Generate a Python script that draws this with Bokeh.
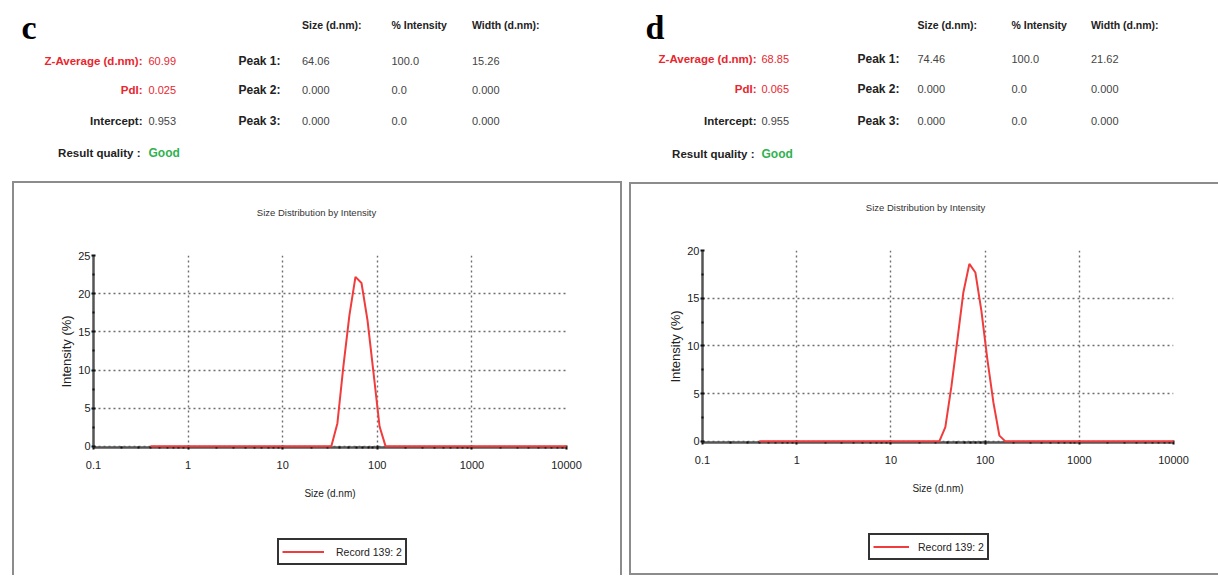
from bokeh.plotting import figure
from bokeh.models import (Label, FixedTicker, CustomJSTickFormatter,
                          Legend, LegendItem, Range1d)
from bokeh.layouts import row, column
from bokeh.core.properties import value
from bokeh.embed import file_html
from bokeh.resources import INLINE

# ---------------- data ----------------
sizes_c = [0.4, 32.67, 37.84, 43.82, 50.75, 58.77, 68.06, 78.82, 91.28, 105.7, 122.4, 10000]
intensity_c = [0, 0, 3.0, 10.5, 17.2, 22.2, 21.4, 16.5, 9.6, 2.6, 0, 0]

sizes_d = [0.4, 32.67, 37.84, 43.82, 50.75, 58.77, 68.06, 78.82, 91.28, 105.7, 122.4, 141.8, 164.2, 10000]
intensity_d = [0, 0, 1.5, 5.7, 10.6, 15.6, 18.6, 17.7, 13.7, 8.6, 4.1, 0.6, 0, 0]

x_tick_values = [0.1, 1, 10, 100, 1000, 10000]
x_tick_labels = ["0.1", "1", "10", "100", "1000", "10000"]
y_ticks_c = [0, 5, 10, 15, 20, 25]
y_ticks_d = [0, 5, 10, 15, 20]

col_heads = ["Size (d.nm):", "% Intensity", "Width (d.nm):"]
row_labels = ["Z-Average (d.nm):", "PdI:", "Intercept:", "Result quality :"]
peak_labels = ["Peak 1:", "Peak 2:", "Peak 3:"]
c_row_values = ["60.99", "0.025", "0.953", "Good"]
d_row_values = ["68.85", "0.065", "0.955", "Good"]
c_peaks = [["64.06", "100.0", "15.26"], ["0.000", "0.0", "0.000"], ["0.000", "0.0", "0.000"]]
d_peaks = [["74.46", "100.0", "21.62"], ["0.000", "0.0", "0.000"], ["0.000", "0.0", "0.000"]]

title_text = "Size Distribution by Intensity"
x_label = "Size (d.nm)"
y_label = "Intensity (%)"
legend_text = "Record 139: 2"

SANS = "Liberation Sans"
SERIF = "Liberation Serif"
RED = "#e8262e"
GREEN = "#2fb24f"
CURVE = "#f03c3c"
BOX = "#8c8c8c"

x_minor = [m * 10.0 ** e for e in range(-1, 4) for m in range(2, 10)]


def blank(w, h, x0=0, x1=None):
    """Figure with pixel-like ranges (y downward) and no axes."""
    p = figure(width=w, height=h, x_range=Range1d(x0, w if x1 is None else x1),
               y_range=Range1d(h, 0),
               output_backend="svg", toolbar_location=None,
               x_axis_location=None, y_axis_location=None,
               min_border=0, min_border_left=0, min_border_right=0,
               min_border_top=0, min_border_bottom=0)
    p.grid.visible = False
    p.outline_line_color = None
    p.background_fill_color = "white"
    p.border_fill_color = "white"
    return p


def put(p, text, x, y, size, color="#222222", bold=False, align="left",
        font=SANS, baseline="middle"):
    p.add_layout(Label(x=x, y=y, text=text, text_font=font, text_font_size=f"{size}px",
                       text_color=color, text_font_style="bold" if bold else "normal",
                       text_align=align, text_baseline=baseline))


def make_panel(cfg):
    ox = cfg["ox"]
    # ---------- header ----------
    hd = blank(cfg["w"], cfg["hh"])
    put(hd, cfg["letter"], cfg["letter_x"] - ox, 27, 34, color="#000000", bold=True,
        font=SERIF, baseline="alphabetic")
    for j, h in enumerate(col_heads):
        put(hd, h, cfg["cols"][j] - ox, 24, 10.5, bold=True)
    rows_y = cfg["rows"]
    for i, lab in enumerate(row_labels):
        colr = RED if i < 2 else "#222222"
        put(hd, lab, cfg["lab_r"] - ox - (2 if i == 3 else 0), rows_y[i], 11.5,
            color=colr, bold=True, align="right")
        val = cfg["vals"][i]
        if i == 3:
            put(hd, val, cfg["val_x"] - ox, rows_y[i], 12, color=GREEN, bold=True)
        else:
            put(hd, val, cfg["val_x"] - ox, rows_y[i], 11, color=RED if i < 2 else "#444444")
    for i, lab in enumerate(peak_labels):
        put(hd, lab, cfg["peak_x"] - ox, rows_y[i], 12, bold=True)
        for j in range(3):
            put(hd, cfg["peaks"][i][j], cfg["cols"][j] - ox, rows_y[i], 11, color="#444444")

    iw, bl, fw = cfg["iw"], cfg["bl"], cfg["fw"]
    # inside the boxed column the plot frames are aligned to the chart frame (bl .. bl+fw),
    # so the strips use x ranges that keep one unit per pixel of the strip canvas
    # ---------- title strip ----------
    tf = blank(iw, cfg["th"], x0=bl, x1=bl + fw)
    put(tf, title_text, cfg["title"][0] - cfg["ix"], cfg["title"][1] - cfg["iy"], 9.5,
        color="#333333", align="center")

    # ---------- chart ----------
    p = figure(width=iw, height=272, x_axis_type="log",
               x_range=Range1d(0.1, 10000), y_range=Range1d(cfg["y0"], cfg["ymax"]),
               output_backend="svg", toolbar_location=None,
               min_border_left=bl, min_border_right=iw - bl - fw,
               min_border_top=10, min_border_bottom=70,
               background_fill_color="white", border_fill_color="white")
    p.outline_line_color = None
    xt = FixedTicker(ticks=x_tick_values, minor_ticks=x_minor)
    yt = FixedTicker(ticks=cfg["yticks"], minor_ticks=[t + 2.5 for t in cfg["yticks"][:-1]])
    p.xaxis.ticker = xt
    p.yaxis.ticker = yt
    p.xgrid.ticker = xt
    p.ygrid.ticker = yt
    p.xaxis.formatter = CustomJSTickFormatter(
        args=dict(vals=x_tick_values, labs=x_tick_labels),
        code="for (let i = 0; i < vals.length; i++) { if (Math.abs(vals[i] - tick) < 1e-6 * vals[i]) return labs[i]; } return '';")
    for ax in (p.xaxis[0], p.yaxis[0]):
        ax.axis_line_color = "#555555"
        ax.axis_line_width = 2.5
        ax.major_tick_line_color = "#111111"
        ax.major_tick_line_width = 2
        ax.major_tick_in = 2
        ax.major_tick_out = 2
        ax.minor_tick_line_color = "#111111"
        ax.minor_tick_line_width = 2
        ax.minor_tick_in = 1
        ax.minor_tick_out = 1
        ax.major_label_text_font = SANS
        ax.major_label_text_font_size = "11px"
        ax.major_label_text_color = "#222222"
    p.xaxis.major_label_standoff = 11
    p.yaxis.major_label_standoff = 1
    p.xaxis.axis_label = x_label
    p.xaxis.axis_label_text_font = SANS
    p.xaxis.axis_label_text_font_size = "10px"
    p.xaxis.axis_label_text_font_style = "normal"
    p.xaxis.axis_label_text_color = "#222222"
    p.xaxis.axis_label_standoff = 16
    p.yaxis.axis_label = y_label
    p.yaxis.axis_label_text_font = SANS
    p.yaxis.axis_label_text_font_size = "13px"
    p.yaxis.axis_label_text_font_style = "normal"
    p.yaxis.axis_label_text_color = "#222222"
    p.yaxis.axis_label_standoff = 1
    for g in (p.xgrid[0], p.ygrid[0]):
        g.grid_line_color = "#6e6e6e"
        g.grid_line_width = 1.4
        g.grid_line_dash = "2 3"
    p.line(cfg["x"], cfg["y"], line_color=CURVE, line_width=2, level="overlay")

    # ---------- legend strip ----------
    lf = blank(iw, cfg["lh"], x0=bl, x1=bl + fw)
    proxy = lf.line([float("nan")], [float("nan")], line_color=CURVE, line_width=2)
    leg = Legend(items=[LegendItem(label=value(legend_text), renderers=[proxy])],
                 location=(cfg["leg"][0] - cfg["ix"] - bl, cfg["lh"] - (cfg["leg"][1] - cfg["ly"])),
                 padding=3, margin=0, spacing=0, glyph_width=cfg["gw"], glyph_height=17,
                 label_height=17, label_standoff=cfg["ls"], label_text_font=SANS,
                 label_text_font_size="10.5px", label_text_color="#222222",
                 border_line_color="#333333", border_line_width=2, border_line_alpha=1,
                 background_fill_color="white", background_fill_alpha=1)
    lf.add_layout(leg, "center")

    border = {"border-top": f"2px solid {BOX}", "border-left": f"2px solid {BOX}"}
    if cfg["right_border"]:
        border["border-right"] = f"2px solid {BOX}"
    if cfg["bottom_border"]:
        border["border-bottom"] = f"2px solid {BOX}"
    boxed = column(tf, p, lf, styles=border, margin=(0, 0, 0, cfg["bm"]), spacing=0)
    return column(hd, boxed, spacing=0)


# left panel: page x 0..625 ; box inner page x 14..620, inner top page y 183
cfg_c = dict(ox=0, w=625, hh=181, bm=12, iw=606, ix=14, iy=183, th=62, ly=517, lh=58,
             bl=79, fw=473, y0=-0.15, ymax=25, yticks=y_ticks_c, x=sizes_c, y=intensity_c,
             leg=(277, 565), gw=42, ls=12, title=(316, 212), bottom_border=False, right_border=True,
             letter="c", letter_x=21, cols=(301.5, 391, 471.5), rows=(60, 89, 120, 152),
             lab_r=142, val_x=148, peak_x=238, vals=c_row_values, peaks=c_peaks)
# right panel: page x 625..1218 ; box inner page x 631..1218, inner top page y 184
cfg_d = dict(ox=625, w=593, hh=182, bm=4, iw=587, ix=631, iy=184, th=56, ly=512, lh=61,
             bl=71, fw=471, y0=-0.12, ymax=20, yticks=y_ticks_d, x=sizes_d, y=intensity_d,
             leg=(868, 560), gw=36, ls=9, title=(925, 207), bottom_border=True, right_border=False,
             letter="d", letter_x=645, cols=(917, 1011, 1090.5), rows=(58, 88, 120, 153),
             lab_r=756, val_x=761, peak_x=857, vals=d_row_values, peaks=d_peaks)

layout = row(make_panel(cfg_c), make_panel(cfg_d), spacing=0)

open("out.html", "w").write(file_html(layout, INLINE))
